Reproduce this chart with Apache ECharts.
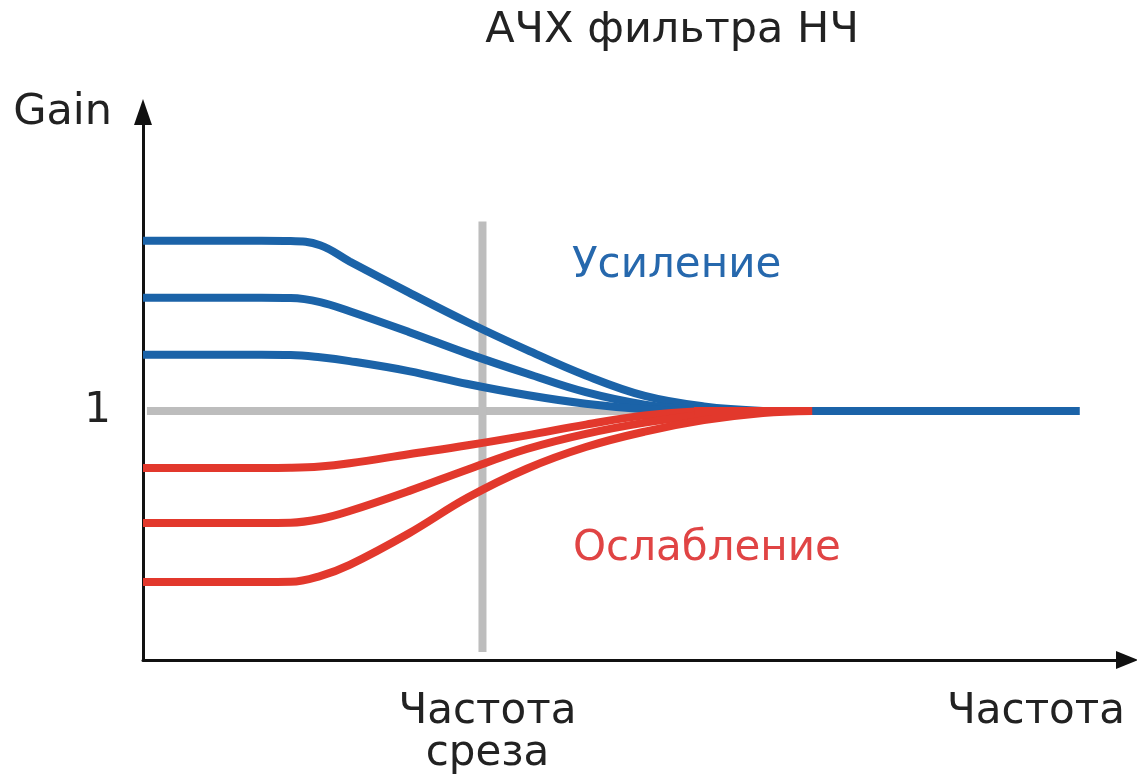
<!DOCTYPE html>
<html>
<head>
<meta charset="utf-8">
<script src="https://cdn.jsdelivr.net/npm/echarts@6/dist/echarts.min.js"></script>
<style>
html,body{margin:0;padding:0;background:#fff;}
#chart{width:1137px;height:776px;}
</style>
</head>
<body>
<div id="chart"></div>
<script>
// ---- data (frequency in arbitrary units, gain relative to 1) ----
const titleText = 'АЧХ фильтра НЧ';
const yAxisName = 'Gain';
const xAxisName = 'Частота';
const cutoffLabel = 'Частота\nсреза';
const boostLabel = 'Усиление';
const cutLabel = 'Ослабление';
const yTickLabels = ['1'];
const cutoffFreq = 34.5;
const unityGain = 1;

const boostHighX = [0, 12, 15, 18, 21, 27, 33, 39, 45, 51, 57, 63];
const boostHighY = [1.683, 1.683, 1.682, 1.665, 1.600, 1.476, 1.356, 1.245, 1.142, 1.060, 1.018, 1.0];
const boostMidX  = [0, 12, 15, 18, 21, 27, 33, 39, 45, 51, 57, 61];
const boostMidY  = [1.454, 1.454, 1.453, 1.437, 1.400, 1.317, 1.230, 1.150, 1.075, 1.025, 1.003, 1.0];
const boostLowX  = [0, 12, 15, 18, 21, 27, 33, 39, 45, 51, 56];
const boostLowY  = [1.225, 1.225, 1.224, 1.215, 1.200, 1.160, 1.108, 1.064, 1.029, 1.007, 1.0];
const boostTailX = [61.5, 95.2];
const boostTailY = [1.0, 1.0];

const cutHighX = [0, 12, 15, 18, 21, 27, 33, 39, 45, 51, 57];
const cutHighY = [0.771, 0.771, 0.772, 0.777, 0.790, 0.826, 0.862, 0.902, 0.945, 0.982, 1.0];
const cutMidX  = [0, 12, 15, 18, 21, 27, 33, 39, 45, 51, 57, 63];
const cutMidY  = [0.55, 0.55, 0.551, 0.566, 0.598, 0.678, 0.765, 0.847, 0.908, 0.953, 0.985, 1.0];
const cutLowX  = [0, 12, 15, 18, 21, 27, 33, 39, 45, 51, 57, 63, 68];
const cutLowY  = [0.313, 0.313, 0.314, 0.337, 0.382, 0.508, 0.652, 0.768, 0.855, 0.917, 0.963, 0.992, 1.0];
const cutTailX = [56, 68];
const cutTailY = [1.0, 1.0];

const refHX = [0.4, 67];
const refVY = [1.76, 0.032];

const zip = (xs, ys) => xs.map((x, i) => [x, ys[i]]);

const BLUE = '#1b63a8';
const RED = '#e2382c';
const GRAY = '#bdbdbd';
const FONT = 'DejaVu Sans';

const chart = echarts.init(document.getElementById('chart'));

function curve(xs, ys, color, z) {
  return {
    type: 'line', data: zip(xs, ys), smooth: 0.4,
    symbol: 'none', z: z,
    lineStyle: { color: color, width: 8, cap: 'butt' }
  };
}

const option = {
  animation: false,
  backgroundColor: '#fff',
  grid: { left: 143, right: 10, top: 112, bottom: 116 },
  xAxis: {
    type: 'value', min: 0, max: 100,
    axisLine: { show: true, symbol: ['none', 'triangle'], symbolSize: [18, 22],
      lineStyle: { color: '#111', width: 3 } },
    axisTick: { show: false }, axisLabel: { show: false }, splitLine: { show: false }
  },
  yAxis: {
    type: 'value', min: 0, max: 2.2, interval: 1,
    axisLine: { show: true, symbol: ['none', 'triangle'], symbolSize: [18, 26],
      lineStyle: { color: '#111', width: 3 } },
    axisTick: { show: false }, splitLine: { show: false },
    axisLabel: {
      margin: 32, fontFamily: FONT, fontSize: 42, color: '#222',
      formatter: v => (v === unityGain ? yTickLabels[0] : '')
    }
  },
  series: [
    { type: 'line', data: zip(refHX, [unityGain, unityGain]), symbol: 'none', z: 1,
      lineStyle: { color: GRAY, width: 8 } },
    { type: 'line', data: zip([cutoffFreq, cutoffFreq], refVY), symbol: 'none', z: 1,
      lineStyle: { color: GRAY, width: 8 } },
    curve(boostHighX, boostHighY, BLUE, 2),
    curve(boostMidX, boostMidY, BLUE, 2),
    curve(boostLowX, boostLowY, BLUE, 2),
    curve(boostTailX, boostTailY, BLUE, 2),
    curve(cutHighX, cutHighY, RED, 3),
    curve(cutMidX, cutMidY, RED, 3),
    curve(cutLowX, cutLowY, RED, 3),
    curve(cutTailX, cutTailY, RED, 3)
  ]
};
chart.setOption(option);

const px = (x, y) => chart.convertToPixel({ gridIndex: 0 }, [x, y]);
const pCut = px(cutoffFreq, 0);
const pEnd = px(100, 0);
const pTop = px(0, 2.2);

chart.setOption({
  graphic: [
    { type: 'text', x: 672, y: 31,
      style: { text: titleText, font: '43px ' + FONT, fill: '#222', textAlign: 'center', textVerticalAlign: 'middle' } },
    { type: 'text', x: pTop[0] - 31, y: pTop[1] + 1,
      style: { text: yAxisName, font: '43px ' + FONT, fill: '#222', textAlign: 'right', textVerticalAlign: 'middle' } },
    { type: 'text', x: pCut[0] + 5, y: pCut[1] + 73,
      style: { text: cutoffLabel, font: '42px ' + FONT, fill: '#222', textAlign: 'center', textVerticalAlign: 'middle', lineHeight: 42 } },
    { type: 'text', x: pEnd[0] - 2, y: pEnd[1] + 52,
      style: { text: xAxisName, font: '42px ' + FONT, fill: '#222', textAlign: 'right', textVerticalAlign: 'middle' } },
    { type: 'text', x: 572, y: 266,
      style: { text: boostLabel, font: '42px ' + FONT, fill: '#2668ad', textAlign: 'left', textVerticalAlign: 'middle' } },
    { type: 'text', x: 573, y: 549,
      style: { text: cutLabel, font: '42px ' + FONT, fill: '#e04444', textAlign: 'left', textVerticalAlign: 'middle' } }
  ]
});
</script>
</body>
</html>
